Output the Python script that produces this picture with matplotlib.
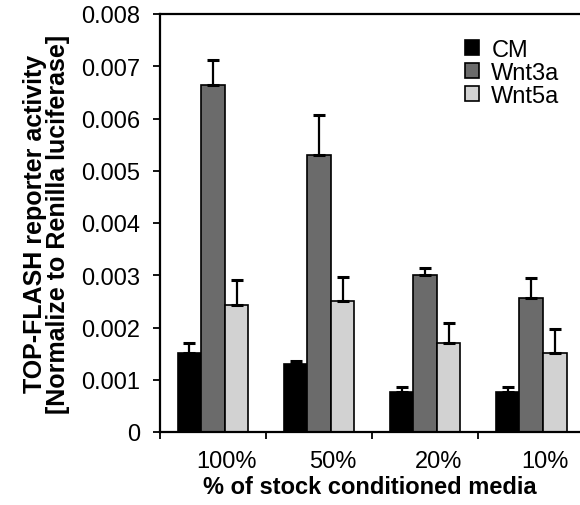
import matplotlib
matplotlib.use("Agg")
import matplotlib.pyplot as plt
import numpy as np

plt.rcParams['font.family'] = ['Liberation Sans', 'DejaVu Sans']

categories = ["100%", "50%", "20%", "10%"]
series_names = ["CM", "Wnt3a", "Wnt5a"]
cm_vals = [0.00152, 0.00130, 0.00076, 0.00076]
cm_err = [0.00018, 0.00006, 0.00010, 0.00010]
wnt3a_vals = [0.00665, 0.00531, 0.00301, 0.00256]
wnt3a_err = [0.00047, 0.00075, 0.00012, 0.00039]
wnt5a_vals = [0.00244, 0.00251, 0.00171, 0.00151]
wnt5a_err = [0.00047, 0.00046, 0.00038, 0.00046]
yticks = [0, 0.001, 0.002, 0.003, 0.004, 0.005, 0.006, 0.007, 0.008]
ytick_labels = ["0", "0.001", "0.002", "0.003", "0.004", "0.005", "0.006", "0.007", "0.008"]

colors = ["#000000", "#6b6b6b", "#d2d2d2"]

fig = plt.figure(figsize=(5.8, 5.06), dpi=100)
ax = fig.add_axes([160/580, 1 - 433/506, 1 - 160/580, (433 - 15)/506])

x = np.arange(len(categories))
w = 0.222
offsets = [-w, 0, w]
vals = [cm_vals, wnt3a_vals, wnt5a_vals]
errs = [cm_err, wnt3a_err, wnt5a_err]
for i, (name, v, e, c, off) in enumerate(zip(series_names, vals, errs, colors, offsets)):
    ax.bar(x + off, v, width=w, color=c, edgecolor="black", linewidth=1.2,
           label=name, zorder=2)
    ax.errorbar(x + off, v, yerr=[np.zeros(len(e)), e], fmt="none",
                ecolor="black", elinewidth=1.6, capsize=4, capthick=2.2, zorder=3)

ax.set_xlim(-0.5, 3.46)
ax.set_ylim(0, 0.008)
ax.set_yticks(yticks)
ax.set_yticklabels(ytick_labels, fontsize=17)
ax.tick_params(axis="y", direction="out", length=5, width=1.3, pad=9)

ax.set_xticks([-0.5, 0.5, 1.5, 2.5])
ax.set_xticklabels([])
ax.tick_params(axis="x", which="major", direction="out", length=5, width=1.3)
ax.set_xticks(x + 0.13, minor=True)
ax.set_xticklabels(categories, minor=True, fontsize=17)
ax.tick_params(axis="x", which="minor", length=0, pad=13)

for s in ["left", "bottom", "top"]:
    ax.spines[s].set_linewidth(1.6)
ax.spines["right"].set_visible(False)

ax.set_xlabel("% of stock conditioned media", fontsize=17, fontweight="bold", labelpad=2)
ax.set_ylabel("TOP-FLASH reporter activity\n[Normalize to Renilla luciferase]",
              fontsize=18, fontweight="bold", labelpad=8, linespacing=0.95)

handles, labels = ax.get_legend_handles_labels()
leg = ax.legend(handles, labels, loc="upper right", bbox_to_anchor=(0.985, 0.975),
                frameon=False, fontsize=17, handlelength=0.6, handleheight=0.6,
                handletextpad=0.5, labelspacing=0.05, borderaxespad=0.2)

fig.savefig("out.png", dpi=100)
